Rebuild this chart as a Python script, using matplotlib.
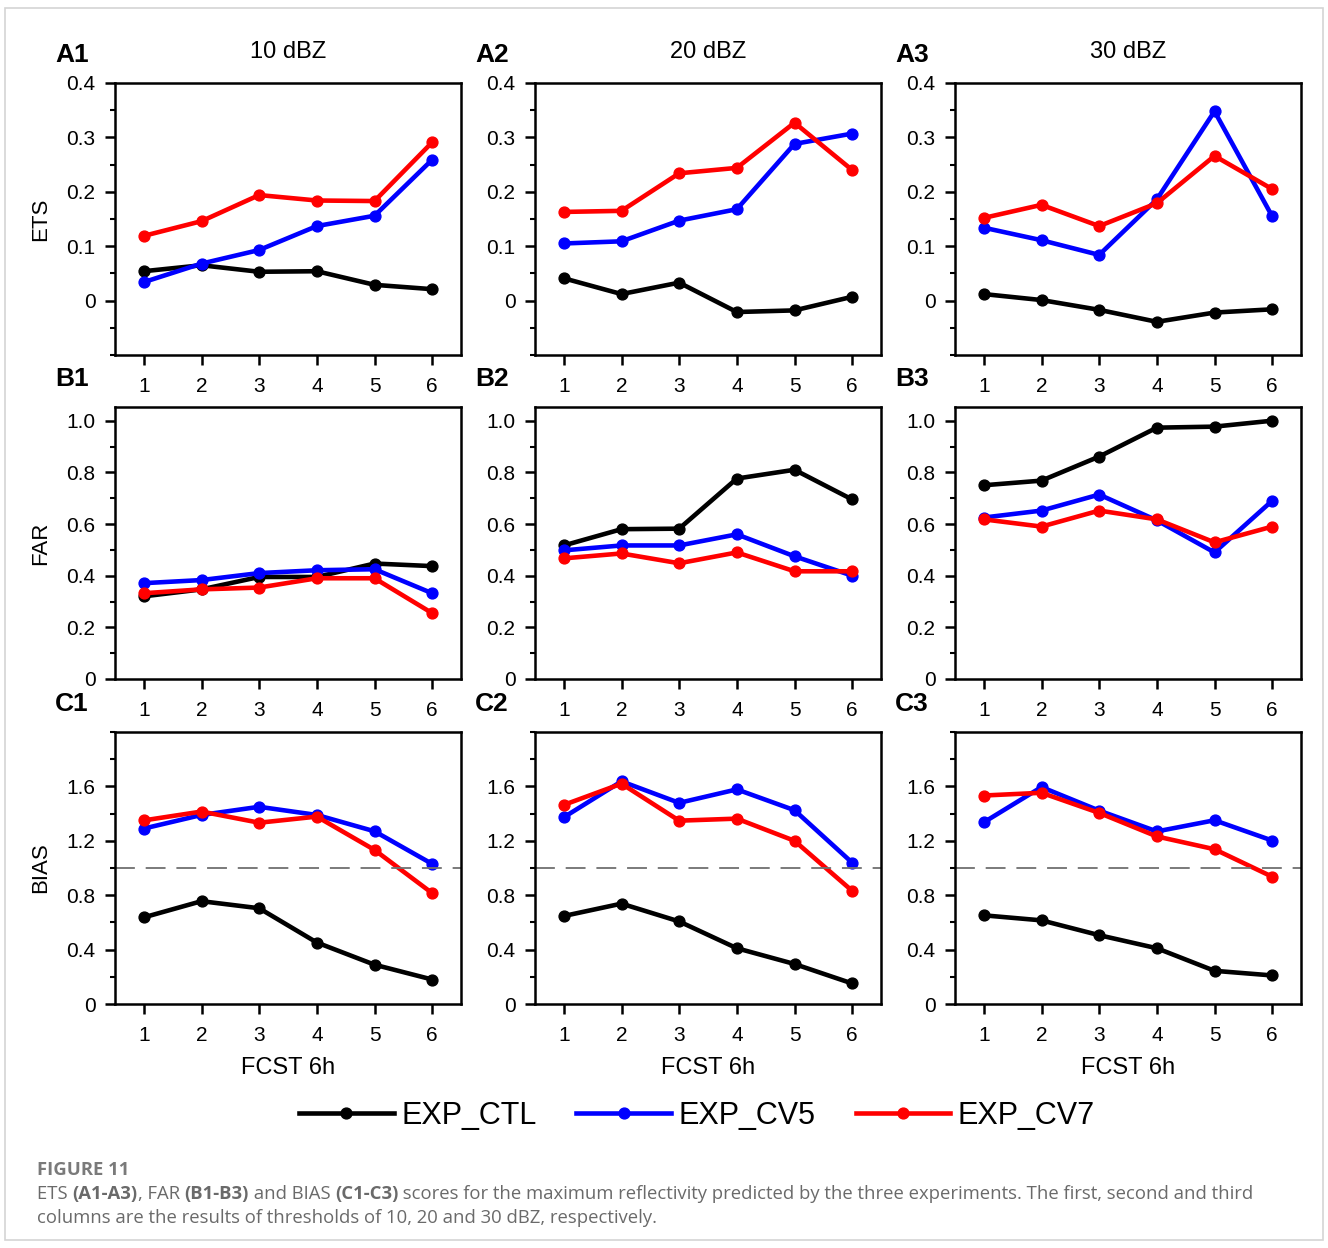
import matplotlib
matplotlib.use("Agg")
import matplotlib.pyplot as plt
from matplotlib.ticker import MultipleLocator, FixedLocator
from matplotlib.patches import Rectangle
from matplotlib.lines import Line2D

plt.rcParams['font.family'] = ['Liberation Sans', 'DejaVu Sans']

# ---- data
fcst = [1, 2, 3, 4, 5, 6]
exp_names = ['EXP_CTL', 'EXP_CV5', 'EXP_CV7']
exp_colors = ['black', '#0000ff', '#ff0000']
thresholds = ['10 dBZ', '20 dBZ', '30 dBZ']

# ETS
ets_ctl_10 = [0.054, 0.065, 0.053, 0.054, 0.029, 0.021]
ets_cv5_10 = [0.034, 0.068, 0.093, 0.137, 0.156, 0.259]
ets_cv7_10 = [0.119, 0.146, 0.194, 0.184, 0.183, 0.291]
ets_ctl_20 = [0.041, 0.012, 0.033, -0.021, -0.018, 0.007]
ets_cv5_20 = [0.105, 0.109, 0.147, 0.168, 0.288, 0.307]
ets_cv7_20 = [0.163, 0.165, 0.234, 0.244, 0.327, 0.240]
ets_ctl_30 = [0.012, 0.001, -0.017, -0.039, -0.022, -0.016]
ets_cv5_30 = [0.134, 0.111, 0.084, 0.186, 0.348, 0.155]
ets_cv7_30 = [0.152, 0.176, 0.137, 0.179, 0.266, 0.205]

# FAR
far_ctl_10 = [0.320, 0.347, 0.395, 0.395, 0.447, 0.437]
far_cv5_10 = [0.371, 0.383, 0.410, 0.421, 0.425, 0.332]
far_cv7_10 = [0.332, 0.347, 0.354, 0.390, 0.390, 0.255]
far_ctl_20 = [0.517, 0.580, 0.582, 0.776, 0.810, 0.695]
far_cv5_20 = [0.498, 0.517, 0.517, 0.560, 0.475, 0.400]
far_cv7_20 = [0.467, 0.486, 0.448, 0.490, 0.417, 0.417]
far_ctl_30 = [0.750, 0.768, 0.861, 0.973, 0.977, 1.000]
far_cv5_30 = [0.625, 0.652, 0.714, 0.614, 0.490, 0.690]
far_cv7_30 = [0.618, 0.590, 0.652, 0.618, 0.529, 0.590]

# BIAS
bias_ctl_10 = [0.637, 0.756, 0.704, 0.452, 0.289, 0.180]
bias_cv5_10 = [1.290, 1.390, 1.450, 1.390, 1.270, 1.030]
bias_cv7_10 = [1.350, 1.415, 1.333, 1.378, 1.133, 0.815]
bias_ctl_20 = [0.647, 0.738, 0.607, 0.410, 0.294, 0.151]
bias_cv5_20 = [1.373, 1.637, 1.479, 1.578, 1.425, 1.039]
bias_cv7_20 = [1.464, 1.620, 1.348, 1.363, 1.200, 0.832]
bias_ctl_30 = [0.652, 0.615, 0.506, 0.410, 0.244, 0.210]
bias_cv5_30 = [1.336, 1.595, 1.422, 1.269, 1.351, 1.202]
bias_cv7_30 = [1.533, 1.553, 1.405, 1.232, 1.138, 0.936]

rows = [
    ('ETS', [[ets_ctl_10, ets_cv5_10, ets_cv7_10],
             [ets_ctl_20, ets_cv5_20, ets_cv7_20],
             [ets_ctl_30, ets_cv5_30, ets_cv7_30]]),
    ('FAR', [[far_ctl_10, far_cv5_10, far_cv7_10],
             [far_ctl_20, far_cv5_20, far_cv7_20],
             [far_ctl_30, far_cv5_30, far_cv7_30]]),
    ('BIAS', [[bias_ctl_10, bias_cv5_10, bias_cv7_10],
              [bias_ctl_20, bias_cv5_20, bias_cv7_20],
              [bias_ctl_30, bias_cv5_30, bias_cv7_30]]),
]
# ylim, major ticks, minor step, tick labels
yaxes = {
    'ETS': ((-0.1, 0.4), [0, 0.1, 0.2, 0.3, 0.4], 0.05, ['0', '0.1', '0.2', '0.3', '0.4']),
    'FAR': ((0, 1.053), [0, 0.2, 0.4, 0.6, 0.8, 1.0], 0.1, ['0', '0.2', '0.4', '0.6', '0.8', '1.0']),
    'BIAS': ((0, 2.0), [0, 0.4, 0.8, 1.2, 1.6], 0.2, ['0', '0.4', '0.8', '1.2', '1.6']),
}

W, H = 1328, 1248
fig = plt.figure(figsize=(W / 100, H / 100), dpi=100)
fig.patches.append(Rectangle((5 / W, 8 / H), 1318 / W, 1232 / H, transform=fig.transFigure,
                             fill=False, edgecolor='#d4d4d4', lw=1.2))

col_left = [115, 535, 955]
row_top = [83, 407, 732]
ax_w, ax_h = 346, 272
letters = ['A', 'B', 'C']

for r, (score, panels) in enumerate(rows):
    lim, majors, minor, labels = yaxes[score]
    for c in range(3):
        left = col_left[c]
        top = row_top[r]
        ax = fig.add_axes([left / W, (H - top - ax_h) / H, ax_w / W, ax_h / H])
        for series, color in zip(panels[c], exp_colors):
            ax.plot(fcst, series, color=color, lw=3.3, marker='o', ms=7.8, solid_capstyle='round')
        if score == 'BIAS':
            ax.axhline(1.0, color='#707070', lw=1.3, dashes=(11, 6))
        ax.set_xlim(0.5, 6.5)
        ax.set_ylim(*lim)
        ax.xaxis.set_major_locator(FixedLocator(fcst))
        ax.yaxis.set_major_locator(FixedLocator(majors))
        ax.set_yticklabels(labels)
        ax.yaxis.set_minor_locator(MultipleLocator(minor))
        ax.tick_params(axis='both', which='major', direction='out', length=7, width=1.8,
                       labelsize=15, pad=7)
        ax.tick_params(axis='x', pad=8.5)
        ax.tick_params(axis='y', which='minor', direction='out', length=3.5, width=1.5)
        for sp in ax.spines.values():
            sp.set_linewidth(1.8)
        if c == 0:
            ax.set_ylabel(score, fontsize=16, labelpad=11)
        if r == 0:
            ax.set_title(thresholds[c], fontsize=17, pad=18)
        if r == 2:
            ax.set_xlabel('FCST 6h', fontsize=17, labelpad=9)
        fig.text((left - 60) / W, 1 - (top - 28) / H, letters[r] + str(c + 1),
                 fontsize=19, fontweight='bold', ha='left', va='center')

handles = [Line2D([], [], color=col, lw=3.3, marker='o', ms=7.8) for col in exp_colors]
fig.legend(handles, exp_names, loc='center', bbox_to_anchor=(697 / W, 1 - 1116 / H),
           ncol=3, frameon=False, fontsize=22, handlelength=3.1, handletextpad=0.25,
           columnspacing=1.3)

# caption
cap_font = ['Open Sans', 'DejaVu Sans']
cap_size = 13.3
fig.text(37 / W, 1 - 1170 / H, 'FIGURE 11', family=cap_font, fontsize=cap_size,
         fontweight='bold', color='#7a7a7a', va='center')

fig.canvas.draw()
renderer = fig.canvas.get_renderer()


def write_line(parts, x0, y):
    x = x0
    for txt, bold in parts:
        t = fig.text(x / W, 1 - y / H, txt, family=cap_font, fontsize=cap_size,
                     fontweight='bold' if bold else 'normal', color='#6a6a6a', va='center')
        bb = t.get_window_extent(renderer)
        x += bb.width


write_line([('ETS ', False), ('(A1-A3)', True), (', FAR ', False), ('(B1-B3)', True),
            (' and BIAS ', False), ('(C1-C3)', True),
            (' scores for the maximum reflectivity predicted by the three experiments. '
             'The first, second and third', False)], 37, 1194)
write_line([('columns are the results of thresholds of 10, 20 and 30 dBZ, respectively.', False)],
           37, 1218)

fig.savefig('out.png', dpi=100)
